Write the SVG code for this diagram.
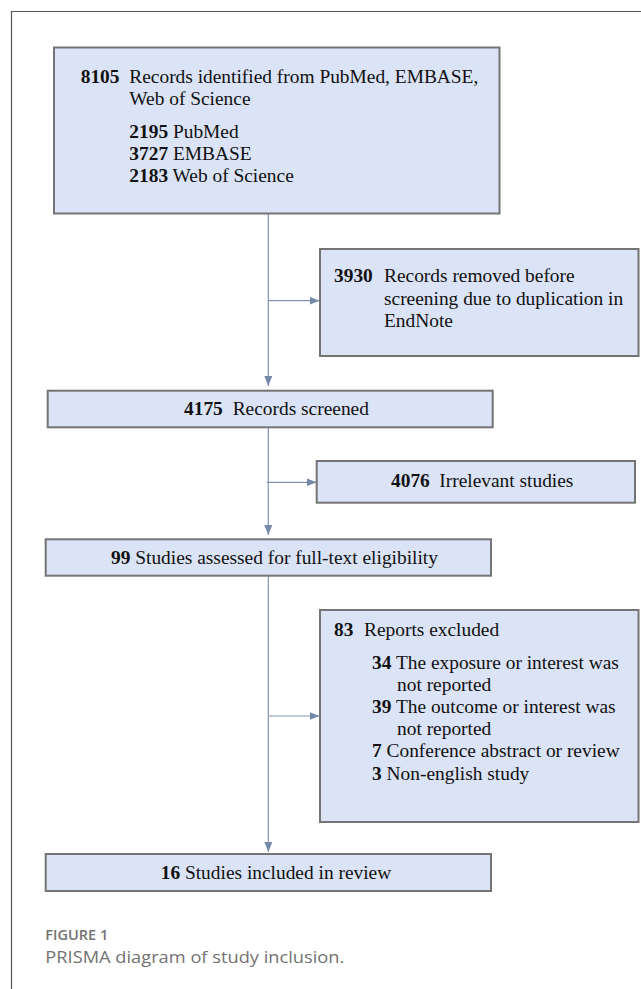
<svg xmlns="http://www.w3.org/2000/svg" width="641" height="989" viewBox="0 0 641 989">
<style>
.box{fill:#dbe3f6;stroke:#747474;stroke-width:2}
.t{font-family:"Liberation Serif","Times New Roman",serif;font-size:19.4px;fill:#111}
.b{font-weight:bold}
.conn{stroke:#8094b2;stroke-width:1.2;fill:none}
.frame{stroke:#555;stroke-width:1.2;fill:none}
.cap{font-family:"Open Sans",sans-serif;fill:#727272}
</style>
<defs>
<marker id="arr" viewBox="0 0 10 8" refX="10" refY="4" markerWidth="10" markerHeight="8" orient="auto" markerUnits="userSpaceOnUse">
<path d="M0,0 L10,4 L0,8 Z" fill="#7489aa"/>
</marker>
</defs>
<path class="frame" d="M11.5,989 V11.5 H641"/>
<g id="connectors">
<line class="conn" x1="268.3" y1="214" x2="268.3" y2="386" marker-end="url(#arr)"/>
<line class="conn" x1="268.3" y1="300.7" x2="319.5" y2="300.7" marker-end="url(#arr)"/>
<line class="conn" x1="268.3" y1="428" x2="268.3" y2="535" marker-end="url(#arr)"/>
<line class="conn" x1="266.7" y1="482.3" x2="316.5" y2="482.3" marker-end="url(#arr)"/>
<line class="conn" x1="268.3" y1="576.5" x2="268.3" y2="852" marker-end="url(#arr)"/>
<line class="conn" x1="268.3" y1="716" x2="319.5" y2="716" marker-end="url(#arr)"/>
</g>
<g id="identified">
<rect class="box" x="54" y="47.5" width="445.5" height="166"/>
<text class="t" y="82.7"><tspan class="b" x="80.7">8105</tspan><tspan x="129.3">Records identified from PubMed, EMBASE,</tspan></text>
<text class="t" x="129.3" y="104.5">Web of Science</text>
<text class="t" x="129.3" y="137.7"><tspan class="b">2195</tspan> PubMed</text>
<text class="t" x="129.3" y="160"><tspan class="b">3727</tspan> EMBASE</text>
<text class="t" x="129.3" y="182.3"><tspan class="b">2183</tspan> Web of Science</text>
</g>
<g id="removed">
<rect class="box" x="320" y="249" width="318.5" height="107"/>
<text class="t" y="282.3"><tspan class="b" x="334">3930</tspan><tspan x="384">Records removed before</tspan></text>
<text class="t" x="384" y="304.5">screening due to duplication in</text>
<text class="t" x="384" y="326.7">EndNote</text>
</g>
<g id="screened">
<rect class="box" x="47.7" y="390.7" width="445" height="36.6"/>
<text class="t" y="415"><tspan class="b" x="184">4175</tspan><tspan x="232.7">Records screened</tspan></text>
</g>
<g id="irrelevant">
<rect class="box" x="316.7" y="461" width="318.3" height="41.7"/>
<text class="t" y="486.7"><tspan class="b" x="391">4076</tspan><tspan x="439.3">Irrelevant studies</tspan></text>
</g>
<g id="assessed">
<rect class="box" x="45.7" y="539.3" width="445.3" height="36.4"/>
<text class="t" x="111" y="564.3"><tspan class="b">99</tspan> Studies assessed for full-text eligibility</text>
</g>
<g id="excluded">
<rect class="box" x="320" y="610" width="318.5" height="212"/>
<text class="t" y="636"><tspan class="b" x="334">83</tspan><tspan x="364">Reports excluded</tspan></text>
<text class="t" x="372" y="669"><tspan class="b">34</tspan> The exposure or interest was</text>
<text class="t" x="397" y="691">not reported</text>
<text class="t" x="372" y="713"><tspan class="b">39</tspan> The outcome or interest was</text>
<text class="t" x="397" y="735">not reported</text>
<text class="t" x="372" y="757"><tspan class="b">7</tspan> Conference abstract or review</text>
<text class="t" x="372" y="780"><tspan class="b">3</tspan> Non-english study</text>
</g>
<g id="included">
<rect class="box" x="45.7" y="854" width="445.3" height="37"/>
<text class="t" x="160.7" y="879.3"><tspan class="b">16</tspan> Studies included in review</text>
</g>
<g id="caption">
<text class="cap" x="45.3" y="940" font-size="15" font-weight="600" textLength="63" lengthAdjust="spacingAndGlyphs">FIGURE 1</text>
<text class="cap" x="45.3" y="962.7" font-size="17" textLength="299" lengthAdjust="spacingAndGlyphs">PRISMA diagram of study inclusion.</text>
</g>
</svg>
